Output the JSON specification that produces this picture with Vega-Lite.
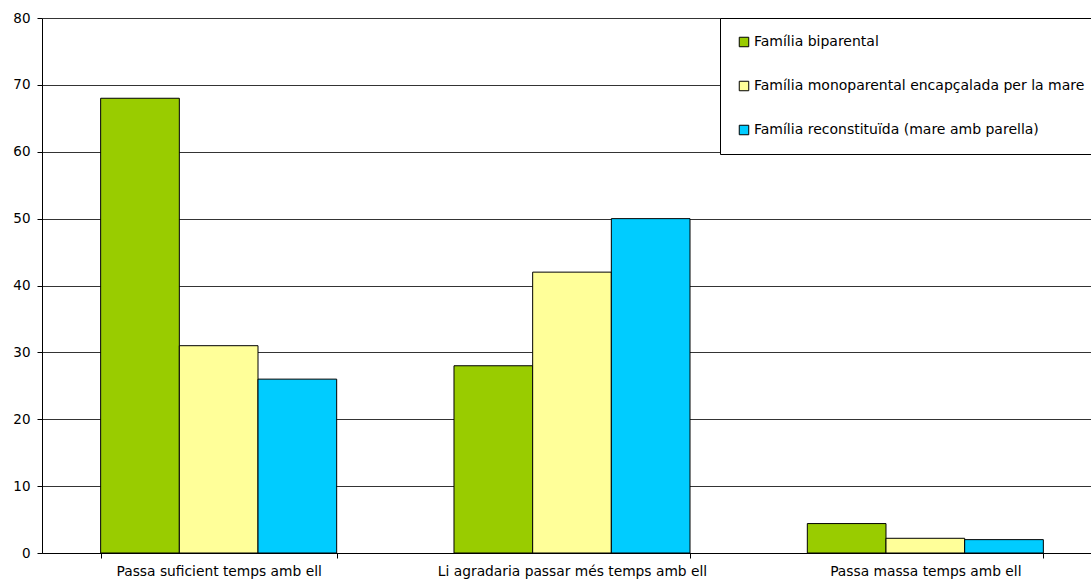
{
  "$schema": "https://vega.github.io/schema/vega-lite/v6.json",
  "width": 1060,
  "height": 535,
  "autosize": {"type": "none"},
  "padding": {"left": 42, "top": 18, "right": 0, "bottom": 30},
  "background": "white",
  "config": {
    "font": "DejaVu Sans",
    "view": {"stroke": null}
  },
  "data": {
    "values": [
      {"cat": "Passa suficient temps amb ell", "fam": "Família biparental", "val": 68},
      {"cat": "Passa suficient temps amb ell", "fam": "Família monoparental encapçalada per la mare", "val": 31},
      {"cat": "Passa suficient temps amb ell", "fam": "Família reconstituïda (mare amb parella)", "val": 26},
      {"cat": "Li agradaria passar més temps amb ell", "fam": "Família biparental", "val": 28},
      {"cat": "Li agradaria passar més temps amb ell", "fam": "Família monoparental encapçalada per la mare", "val": 42},
      {"cat": "Li agradaria passar més temps amb ell", "fam": "Família reconstituïda (mare amb parella)", "val": 50},
      {"cat": "Passa massa temps amb ell", "fam": "Família biparental", "val": 4.4},
      {"cat": "Passa massa temps amb ell", "fam": "Família monoparental encapçalada per la mare", "val": 2.2},
      {"cat": "Passa massa temps amb ell", "fam": "Família reconstituïda (mare amb parella)", "val": 2.0}
    ]
  },
  "mark": {"type": "bar", "stroke": "black", "strokeWidth": 1},
  "encoding": {
    "x": {
      "field": "cat",
      "type": "nominal",
      "sort": null,
      "scale": {"paddingInner": 0.332, "paddingOuter": 0.166},
      "axis": {
        "title": null,
        "labelAngle": 0,
        "labelFontSize": 13.8,
        "labelColor": "black",
        "labelPadding": 6,
        "labelLimit": 600,
        "tickBand": "extent",
        "tickColor": "black",
        "tickSize": 5,
        "domainColor": "black",
        "grid": false
      }
    },
    "xOffset": {
      "field": "fam",
      "type": "nominal",
      "sort": null,
      "scale": {"paddingInner": 0, "paddingOuter": 0}
    },
    "y": {
      "field": "val",
      "type": "quantitative",
      "scale": {"domain": [0, 80], "nice": false},
      "axis": {
        "title": null,
        "values": [0, 10, 20, 30, 40, 50, 60, 70, 80],
        "labelFontSize": 13.5,
        "labelColor": "black",
        "labelPadding": 7,
        "tickColor": "black",
        "tickSize": 5,
        "domainColor": "black",
        "gridColor": "black",
        "gridWidth": 0.8,
        "gridOpacity": 1
      }
    },
    "fill": {
      "field": "fam",
      "type": "nominal",
      "sort": null,
      "scale": {
        "domain": ["Família biparental", "Família monoparental encapçalada per la mare", "Família reconstituïda (mare amb parella)"],
        "range": ["#99CC00", "#FFFF99", "#00CCFF"]
      },
      "legend": {
        "title": null,
        "orient": "top-right",
        "offset": 0,
        "fillColor": "white",
        "strokeColor": "black",
        "padding": 17,
        "rowPadding": 30,
        "labelFontSize": 14,
        "labelColor": "black",
        "labelOffset": 3,
        "labelLimit": 500,
        "symbolType": "square",
        "symbolSize": 90,
        "symbolStrokeColor": "black",
        "symbolStrokeWidth": 1
      }
    }
  }
}
